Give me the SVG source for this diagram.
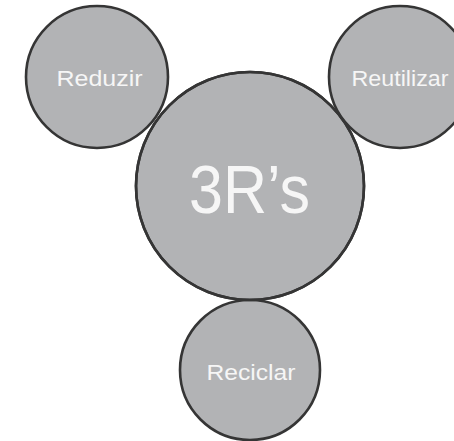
<svg xmlns="http://www.w3.org/2000/svg" width="454" height="441" viewBox="0 0 454 441">
<style>
.c{fill:#b2b3b5;stroke:#353535;stroke-width:2.6}
.t{fill:#f6f6f6;font-family:"Liberation Sans",Arial,sans-serif;text-anchor:middle}
</style>
<rect width="454" height="441" fill="#ffffff"/>
<g id="connectors"/>
<g id="main">
<circle class="c" cx="250" cy="186" r="114"/>
<text class="t" x="249.5" y="213" font-size="68" textLength="121" lengthAdjust="spacingAndGlyphs">3R’s</text>
</g>
<g id="reduzir">
<circle class="c" cx="97" cy="77" r="71"/>
<text class="t" x="99.5" y="86" font-size="22" textLength="86" lengthAdjust="spacingAndGlyphs">Reduzir</text>
</g>
<g id="reutilizar">
<circle class="c" cx="400" cy="77" r="71"/>
<text class="t" x="400" y="86" font-size="22" textLength="97" lengthAdjust="spacingAndGlyphs">Reutilizar</text>
</g>
<g id="reciclar">
<circle class="c" cx="250" cy="370" r="70"/>
<text class="t" x="251" y="380" font-size="22" textLength="89" lengthAdjust="spacingAndGlyphs">Reciclar</text>
</g>
<g id="outline-overlay" fill="none" stroke="#353535" stroke-width="2.6">
<circle cx="250" cy="186" r="114"/>
</g>
</svg>
